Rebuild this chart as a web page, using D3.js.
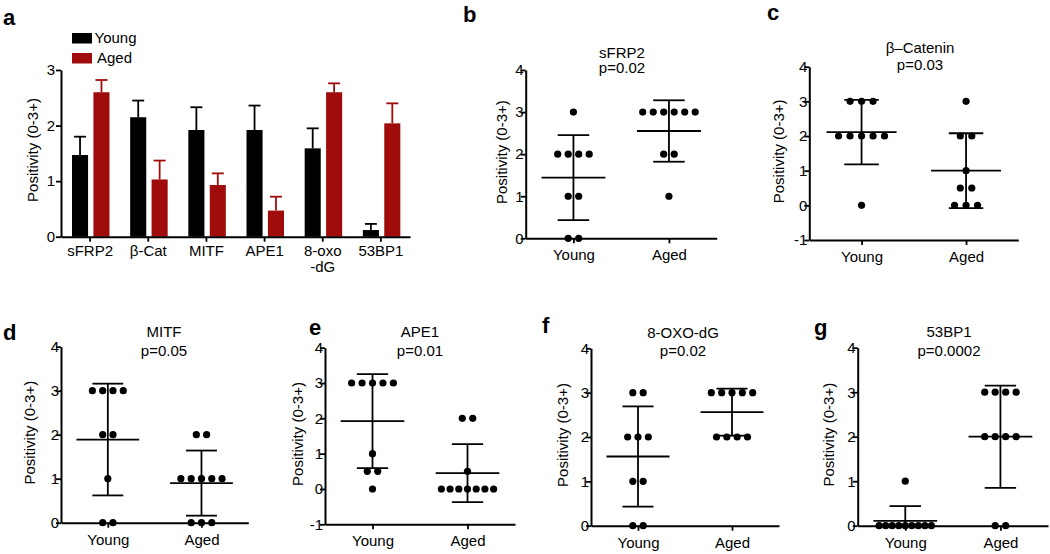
<!DOCTYPE html>
<html>
<head>
<meta charset="utf-8">
<script src="https://cdn.jsdelivr.net/npm/d3@7"></script>
<style>
  body { margin: 0; background: #fff; }
  text { font-family: "Liberation Sans", Arial, sans-serif; }
</style>
</head>
<body>
<script>
// ---- data ----

// panel a: bar chart
const barCategories = ["sFRP2", "β-Cat", "MITF", "APE1", "8-oxo\n-dG", "53BP1"];
const groups = ["Young", "Aged"];
const youngMeans = [1.47, 2.15, 1.92, 1.92, 1.59, 0.12];
const youngErr   = [0.33, 0.30, 0.41, 0.44, 0.36, 0.11];
const agedMeans  = [2.60, 1.03, 0.93, 0.47, 2.60, 2.04];
const agedErr    = [0.22, 0.34, 0.21, 0.25, 0.16, 0.36];

// panels b-g: scatter plots
const scatterTitles = ["sFRP2", "β–Catenin", "MITF", "APE1", "8-OXO-dG", "53BP1"];
const pValues = ["p=0.02", "p=0.03", "p=0.05", "p=0.01", "p=0.02", "p=0.0002"];
const youngScores = [
  [3, 2, 2, 2, 2, 1, 1, 0, 0],
  [3, 3, 3, 2, 2, 2, 2, 2, 0],
  [3, 3, 3, 3, 2, 2, 1, 0, 0],
  [3, 3, 3, 3, 3, 1, 0.5, 0.5, 0],
  [3, 3, 2, 2, 2, 1, 1, 0, 0],
  [1, 0, 0, 0, 0, 0, 0, 0, 0, 0]
];
const agedScores = [
  [3, 3, 3, 3, 3, 3, 2, 2, 1],
  [3, 2, 2, 1, 0.5, 0.5, 0, 0, 0],
  [2, 2, 1, 1, 1, 1, 1, 0, 0, 0],
  [2, 2, 0.5, 0, 0, 0, 0, 0, 0, 0],
  [3, 3, 3, 3, 3, 2, 2, 2, 2],
  [3, 3, 3, 3, 2, 2, 2, 2, 0, 0]
];
const youngMean = [1.44, 2.11, 1.89, 1.92, 1.56, 0.11];
const youngSD   = [1.01, 0.93, 1.27, 1.33, 1.13, 0.33];
const agedMean  = [2.55, 1.00, 0.90, 0.45, 2.56, 2.00];
const agedSD    = [0.73, 1.08, 0.74, 0.82, 0.53, 1.15];
const yLabel = "Positivity (0-3+)";

// ---- layout ----
const FONT = "'Liberation Sans', Arial, sans-serif";
const RED = "#a00c0c";
const colors = { Young: "#000", Aged: RED };

const svg = d3.select("body").append("svg")
  .attr("width", 1050)
  .attr("height", 554);

function styleAxis(g) {
  g.attr("font-size", 15).attr("font-family", FONT);
  g.select(".domain").attr("stroke-width", 2);
  g.selectAll(".tick line").attr("stroke-width", 1.8);
}

function panelLetter(letter, x, y) {
  svg.append("text")
    .attr("x", x).attr("y", y)
    .attr("font-size", 22).attr("font-weight", "bold")
    .text(letter);
}

function yTitle(x, y) {
  svg.append("text")
    .attr("transform", `translate(${x},${y}) rotate(-90)`)
    .attr("text-anchor", "middle")
    .attr("dy", "0.35em")
    .attr("font-size", 15)
    .text(yLabel);
}

// ---- panel a ----
panelLetter("a", 3, 25);

const xA = d3.scaleBand().domain(barCategories).range([61, 410]);
const xInner = d3.scaleBand().domain(groups).range([11, 48.5]).paddingInner(0.25);
const yA = d3.scaleLinear().domain([0, 3]).range([236.7, 70]);

const barData = barCategories.map((c, i) => ({
  cat: c,
  Young: { v: youngMeans[i], e: youngErr[i] },
  Aged: { v: agedMeans[i], e: agedErr[i] }
}));

groups.forEach((grp) => {
  const gBars = svg.append("g");
  const mid = (d) => xA(d.cat) + xInner(grp) + xInner.bandwidth() / 2;
  // error bars (upper only)
  gBars.selectAll("line.err")
    .data(barData)
    .enter()
    .append("line")
      .attr("x1", mid)
      .attr("x2", mid)
      .attr("y1", (d) => yA(d[grp].v))
      .attr("y2", (d) => yA(d[grp].v + d[grp].e))
      .attr("stroke", colors[grp])
      .attr("stroke-width", 1.8);
  gBars.selectAll("line.cap")
    .data(barData)
    .enter()
    .append("line")
      .attr("x1", (d) => mid(d) - 6)
      .attr("x2", (d) => mid(d) + 6)
      .attr("y1", (d) => yA(d[grp].v + d[grp].e))
      .attr("y2", (d) => yA(d[grp].v + d[grp].e))
      .attr("stroke", colors[grp])
      .attr("stroke-width", 1.8);
  gBars.selectAll("rect")
    .data(barData)
    .enter()
    .append("rect")
      .attr("x", (d) => xA(d.cat) + xInner(grp))
      .attr("width", xInner.bandwidth())
      .attr("y", (d) => yA(d[grp].v))
      .attr("height", (d) => yA(0) - yA(d[grp].v))
      .attr("fill", colors[grp]);
});

svg.append("g")
  .attr("transform", "translate(61,0)")
  .call(d3.axisLeft(yA).ticks(3).tickSize(5).tickSizeOuter(0).tickPadding(1).tickFormat((d) => String(d)))
  .call(styleAxis);

svg.append("g")
  .attr("transform", `translate(0,${yA(0)})`)
  .call(d3.axisBottom(xA).tickSize(5).tickSizeOuter(0).tickPadding(4))
  .call(styleAxis)
  .selectAll(".tick text")
  .each(function (d) {
    const lines = d.split("\n");
    if (lines.length > 1) {
      const t = d3.select(this).text(null).attr("dy", null);
      lines.forEach((l, i) => {
        t.append("tspan").attr("x", 0).attr("dy", i ? "16px" : "0.71em").text(l);
      });
    }
  });

yTitle(33, 150);

// legend
groups.forEach((grp, i) => {
  svg.append("rect")
    .attr("x", 72).attr("y", 33 + i * 20)
    .attr("width", 20).attr("height", 10.5)
    .attr("fill", colors[grp]);
  svg.append("text")
    .attr("x", i ? 97 : 94.5).attr("y", 42.5 + i * 20)
    .attr("font-size", 15)
    .text(grp);
});

// ---- panels b-g ----
const scatterLayout = [
  { letter: "b", lx: 463, ly: 21.7, x0: 525.7, x1: 716.7, yb: 238.3, yt: 70,    lo: 0,  tx: 622, t1: 57.5,  t2: 72.5, labDx: 24 },
  { letter: "c", lx: 767, ly: 20,   x0: 809.3, x1: 1018.3, yb: 240, yt: 66.7,  lo: -1, tx: 920, t1: 53.3,  t2: 70,  labDx: 31 },
  { letter: "d", lx: 3,   ly: 340,  x0: 61,    x1: 248.3, yb: 522.7, yt: 346.7, lo: 0,  tx: 164, t1: 337.3, t2: 356, labDx: 31 },
  { letter: "e", lx: 309, ly: 335,  x0: 325,   x1: 515,   yb: 524.3, yt: 347.7, lo: -1, tx: 420, t1: 337.3, t2: 356, labDx: 27 },
  { letter: "f", lx: 542, ly: 333.3, x0: 591,  x1: 779,   yb: 525.7, yt: 348.3, lo: 0,  tx: 683, t1: 338.3, t2: 356, labDx: 28 },
  { letter: "g", lx: 814, ly: 334.5, x0: 857.7, x1: 1048, yb: 525.7, yt: 347.7, lo: 0,  tx: 949, t1: 337.3, t2: 356, labDx: 29 }
];

// spread dots that share a value side by side around the group centre
function spreadDots(values, cx, step) {
  const counts = d3.rollup(values, (v) => v.length, (d) => d);
  const seen = new Map();
  return values.map((v) => {
    const k = counts.get(v);
    const idx = seen.get(v) || 0;
    seen.set(v, idx + 1);
    const s = k > 1 ? Math.min(step * 0.11, (step * 0.55) / (k - 1)) : 0;
    return { v: v, x: cx + (idx - (k - 1) / 2) * s };
  });
}

scatterLayout.forEach((L, p) => {
  panelLetter(L.letter, L.lx, L.ly);

  const x = d3.scalePoint().domain(groups).range([L.x0, L.x1]).padding(0.5);
  const y = d3.scaleLinear().domain([L.lo, 4]).range([L.yb, L.yt]);
  const step = x.step();
  const g = svg.append("g");

  const stats = [
    { grp: "Young", m: youngMean[p], sd: youngSD[p], vals: youngScores[p] },
    { grp: "Aged", m: agedMean[p], sd: agedSD[p], vals: agedScores[p] }
  ];

  stats.forEach((s) => {
    const cx = x(s.grp);
    const hi = s.m + s.sd;
    const lo = Math.max(s.m - s.sd, L.lo);
    g.append("line")
      .attr("x1", cx).attr("x2", cx)
      .attr("y1", y(hi)).attr("y2", y(lo))
      .attr("stroke", "#000").attr("stroke-width", 1.8);
    g.append("line")
      .attr("x1", cx - step * 0.335).attr("x2", cx + step * 0.335)
      .attr("y1", y(s.m)).attr("y2", y(s.m))
      .attr("stroke", "#000").attr("stroke-width", 1.8);
    const caps = [hi];
    if (s.m - s.sd >= L.lo) caps.push(s.m - s.sd);
    g.selectAll(null)
      .data(caps)
      .enter()
      .append("line")
        .attr("x1", cx - step * 0.165).attr("x2", cx + step * 0.165)
        .attr("y1", (d) => y(d)).attr("y2", (d) => y(d))
        .attr("stroke", "#000").attr("stroke-width", 1.8);

    g.selectAll(null)
      .data(spreadDots(s.vals, cx, step))
      .enter()
      .append("circle")
        .attr("cx", (d) => d.x)
        .attr("cy", (d) => y(d.v))
        .attr("r", 3.6)
        .attr("fill", "#000");
  });

  svg.append("g")
    .attr("transform", `translate(${L.x0},0)`)
    .call(d3.axisLeft(y).ticks(5).tickSize(5).tickSizeOuter(0).tickPadding(-3).tickFormat((d) => String(d)))
    .call(styleAxis);

  svg.append("g")
    .attr("transform", `translate(0,${L.yb})`)
    .call(d3.axisBottom(x).tickSize(5).tickSizeOuter(0).tickPadding(6.4))
    .call(styleAxis);

  yTitle(L.x0 - L.labDx, (L.yb + L.yt) / 2 - 2);

  svg.append("text")
    .attr("x", L.tx).attr("y", L.t1)
    .attr("text-anchor", "middle").attr("font-size", 15)
    .text(scatterTitles[p]);
  svg.append("text")
    .attr("x", L.tx).attr("y", L.t2)
    .attr("text-anchor", "middle").attr("font-size", 15)
    .text(pValues[p]);
});
</script>
</body>
</html>
